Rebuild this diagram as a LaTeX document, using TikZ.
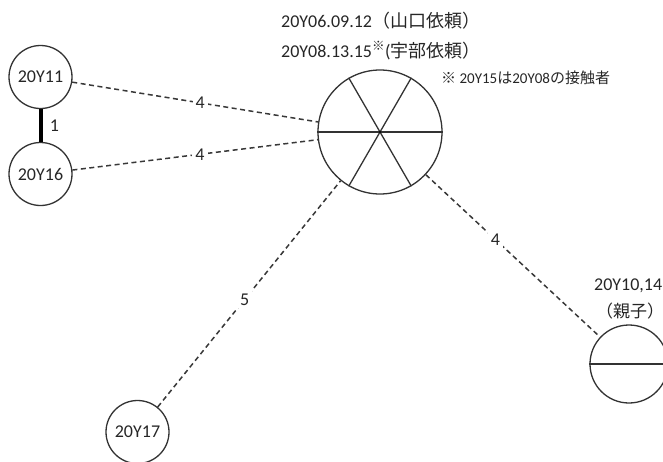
\documentclass[tikz,border=0pt]{standalone}
\usepackage{fontspec}
\setmainfont{Carlito}
\newfontfamily\cjk{Noto Sans CJK JP}
\newcommand{\lblfont}{\fontsize{18}{20}\selectfont}
\newcommand{\notefont}{\fontsize{15}{17}\selectfont}
\begin{document}
\begin{tikzpicture}[x=1pt,y=-1pt,
  person/.style={circle, draw=black!80, line width=1.3pt, inner sep=0pt, minimum size=63pt, font=\lblfont, text=black!85},
  dashline/.style={draw=black!78, line width=1.5pt, dash pattern=on 5pt off 3.5pt},
  elabel/.style={fill=white, inner sep=3pt, font=\lblfont, text=black!85},
  txt/.style={anchor=base west, inner sep=0pt, font=\lblfont, text=black!85}]
\useasboundingbox (0,0) rectangle (663,461);

% nodes
\node[person] (a11) at (40.5,77) {20Y11};
\node[person] (a16) at (40.5,174) {20Y16};
\node[person] (a17) at (137.5,432) {20Y17};
\node[person, minimum size=124pt] (g) at (380,132) {};
\node[person, minimum size=78pt] (r) at (629,364) {};

% inner divisions
\draw[black!80, line width=1.3pt] (g.west) -- (g.east);
\draw[black!80, line width=1.3pt] (g.60) -- (g.240);
\draw[black!80, line width=1.3pt] (g.120) -- (g.300);
\fill (g.center) circle (1.2pt);
\draw[black!80, line width=1.3pt] (r.west) -- (r.east);

% connectors
\draw[line width=4pt] (a11) -- node[right=4pt, font=\lblfont, text=black!85] {1} (a16);
\draw[dashline] (a11) -- node[elabel, pos=0.52] {4} (g);
\draw[dashline] (a16) -- node[elabel, pos=0.52] {4} (g);
\draw[dashline] (a17) -- node[elabel, pos=0.476] {5} (g);
\draw[dashline] (g) -- node[elabel, pos=0.40] {4} (r);

% texts
\node[txt] (t1) at (281,27) {20Y06.09.12{\cjk （山口依頼）}};
\node[txt] (t2) at (281,57) {20Y08.13.15\textsuperscript{\cjk ※}({\cjk 宇部依頼）}};
\node[txt, font=\notefont] (t3) at (441,83) {{\cjk ※} 20Y15{\cjk は}20Y08{\cjk の接触者}};
\node[txt] (t4) at (594,290) {20Y10,14};
\node[txt, font=\fontsize{17}{19}\selectfont] (t5) at (596,317) {\cjk （親子）};
\end{tikzpicture}
\end{document}
